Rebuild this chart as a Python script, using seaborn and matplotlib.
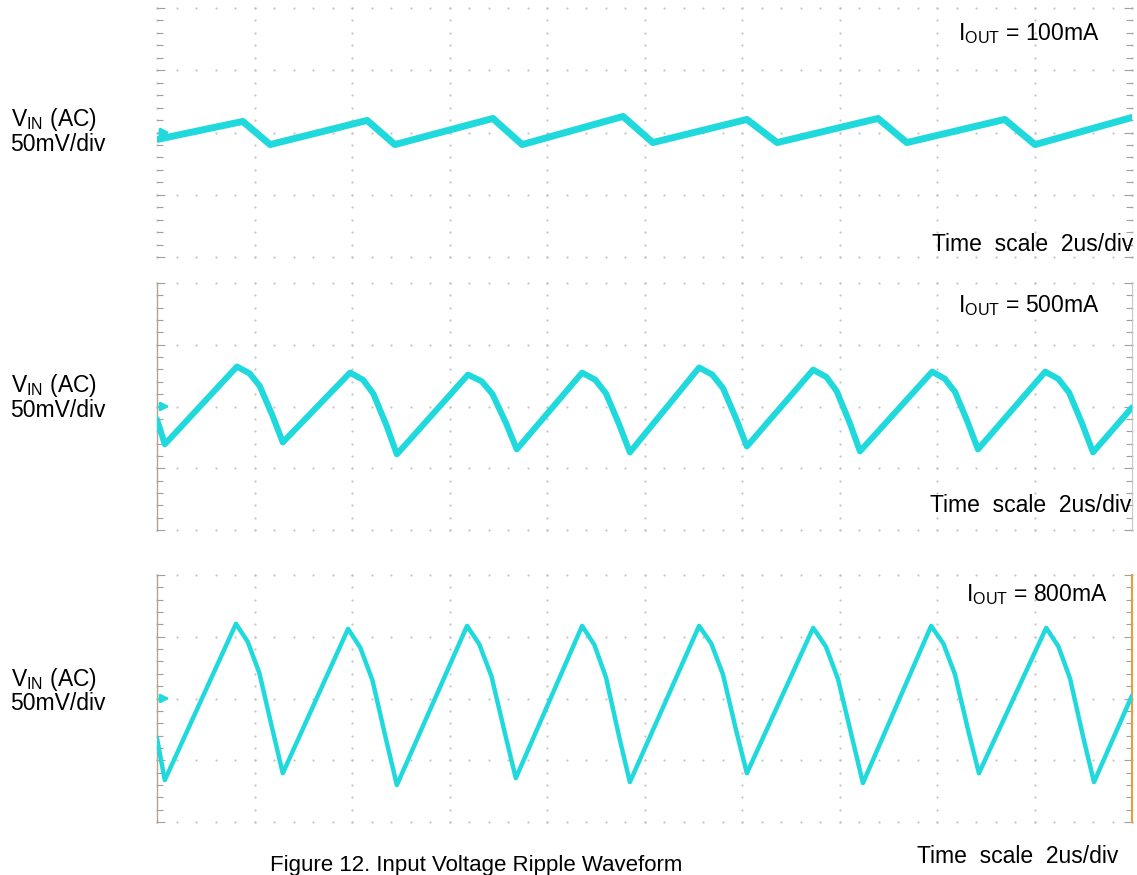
import numpy as np
import pandas as pd
import matplotlib.pyplot as plt
import seaborn as sns
from matplotlib.ticker import MultipleLocator

# Scope captures: time in us (2 us/div), AC ripple in mV (50 mV/div)
t_100 = [0.0, 1.76, 2.32, 4.31, 4.88, 6.89, 7.49, 9.56, 10.17, 12.10, 12.72,
         14.79, 15.38, 17.39, 18.01, 20.0]
v_100 = [-5.6, 8.9, -9.7, 9.7, -9.7, 11.3, -9.7, 12.9, -8.1, 10.5, -8.1,
         11.3, -8.1, 10.5, -9.7, 12.1]

t_500 = [0.0, 0.16, 1.64, 1.90, 2.11, 2.37, 2.58,
         3.96, 4.23, 4.44, 4.71, 4.92,
         6.38, 6.66, 6.88, 7.16, 7.38,
         8.72, 8.99, 9.21, 9.48, 9.70,
         11.12, 11.39, 11.61, 11.88, 12.10,
         13.46, 13.73, 13.94, 14.21, 14.42,
         15.90, 16.16, 16.37, 16.63, 16.84,
         18.22, 18.49, 18.71, 18.98, 19.20, 20.0]
v_500 = [-10.5, -30.6, 32.3, 26.8, 16.4, -7.5, -29.0,
         27.4, 21.5, 10.2, -15.6, -38.7,
         25.8, 20.4, 10.1, -13.5, -34.7,
         27.4, 21.6, 10.6, -14.5, -37.1,
         31.5, 25.8, 14.9, -10.0, -32.3,
         29.8, 23.9, 12.6, -13.2, -36.3,
         28.2, 22.5, 11.8, -12.7, -34.7,
         28.2, 22.3, 11.2, -14.2, -37.1, -0.8]

t_800 = [0.0, 0.16, 1.62, 1.86, 2.10, 2.37, 2.58,
         3.92, 4.17, 4.42, 4.70, 4.92,
         6.36, 6.61, 6.86, 7.14, 7.36,
         8.72, 8.97, 9.21, 9.48, 9.70,
         11.12, 11.37, 11.61, 11.88, 12.10,
         13.46, 13.72, 13.97, 14.26, 14.48,
         15.88, 16.13, 16.37, 16.64, 16.86,
         18.24, 18.49, 18.73, 19.00, 19.22, 20.0]
v_800 = [-32.3, -66.1, 60.5, 46.0, 20.6, -25.4, -60.5,
         56.4, 41.2, 14.7, -33.4, -70.1,
         58.8, 44.0, 18.1, -28.7, -64.5,
         58.8, 43.6, 17.1, -31.0, -67.7,
         58.8, 44.5, 19.4, -25.9, -60.5,
         57.2, 42.1, 15.7, -32.0, -68.5,
         58.8, 44.5, 19.4, -25.9, -60.5,
         57.2, 42.2, 16.0, -31.5, -67.7, 2.4]

loads = ['100mA', '500mA', '800mA']

TRACE = '#1fd9dc'
W, H = 1137, 875

sns.set_style('white')
plt.rcParams['font.family'] = ['Liberation Sans', 'DejaVu Sans']
plt.rcParams['mathtext.default'] = 'regular'
plt.rcParams['text.color'] = 'black'

fig = plt.figure(figsize=(W / 100, H / 100), dpi=100)


def px(x, y):
    return x / W, 1 - y / H


# axes boxes in pixels: (top, bottom)
boxes = [(8, 257), (283, 530), (575, 822)]
left, right = 157, 1132
traces = [(t_100, v_100, 5.0), (t_500, v_500, 4.4), (t_800, v_800, 3.2)]

axes = []
for (top, bot), (t, v, lw) in zip(boxes, traces):
    ax = fig.add_axes([left / W, 1 - bot / H, (right - left) / W, (bot - top) / H])
    # dotted scope graticule
    xs_major = np.arange(0, 20.01, 2)
    ys_major = np.arange(-100, 100.1, 50)
    xs_minor = np.arange(0, 20.01, 0.4)
    ys_minor = np.arange(-100, 100.1, 10)
    gx, gy = np.meshgrid(xs_major, ys_minor)
    hx, hy = np.meshgrid(xs_minor, ys_major)
    ax.scatter(np.r_[gx.ravel(), hx.ravel()], np.r_[gy.ravel(), hy.ravel()],
               s=2.5, color='#c4c4c4', lw=0, zorder=0, clip_on=False)

    df = pd.DataFrame({'t': t, 'v': v})
    sns.lineplot(data=df, x='t', y='v', ax=ax, color=TRACE, lw=lw,
                 estimator=None, sort=False, zorder=3,
                 solid_joinstyle='round', solid_capstyle='round')
    # ground marker
    ax.annotate('', xy=(0.32, 0), xytext=(0, 0),
                arrowprops=dict(arrowstyle='-|>', color=TRACE, lw=2,
                                mutation_scale=12), zorder=4)

    ax.set_xlim(0, 20)
    ax.set_ylim(-100, 100)
    ax.set_xlabel('')
    ax.set_ylabel('')
    ax.set_xticks([])
    ax.set_yticks(ys_major)
    ax.yaxis.set_minor_locator(MultipleLocator(10))
    ax.tick_params(axis='y', which='both', direction='in', left=True, right=True,
                   labelleft=False, color='#a0a0a0', width=0.8)
    ax.tick_params(axis='y', which='major', length=6)
    ax.tick_params(axis='y', which='minor', length=4)
    for s in ax.spines.values():
        s.set_visible(False)
    axes.append(ax)

for ax in axes[1:]:
    ax.spines['left'].set_visible(True)
    ax.spines['left'].set_color('#b5a58f')
    ax.spines['left'].set_linewidth(1.0)
axes[1].spines['right'].set_visible(True)
axes[1].spines['right'].set_color('#c8c8c8')
axes[2].spines['right'].set_visible(True)
axes[2].spines['right'].set_color('#e3a03c')
axes[2].spines['right'].set_linewidth(1.5)

fs = 16.5
# left channel labels (baselines in px)
for y1, y2 in [(126, 151), (392, 417), (686, 710)]:
    fig.text(*px(11, y1), 'V$_{IN}$ (AC)', fontsize=fs, ha='left', va='baseline')
    fig.text(*px(10, y2), '50mV/div', fontsize=fs, ha='left', va='baseline')

# load current labels
for load, (x, y) in zip(loads, [(1100, 40), (1100, 312), (1108, 601)]):
    fig.text(*px(x, y), 'I$_{OUT}$ = ' + load, fontsize=fs, ha='right', va='baseline')

# time base labels
for x, y in [(1133, 251), (1131, 512), (1118, 863)]:
    fig.text(*px(x, y), 'Time  scale  2us/div', fontsize=fs, ha='right', va='baseline')

fig.text(*px(270, 871), 'Figure 12. Input Voltage Ripple Waveform', fontsize=16,
         ha='left', va='baseline')

fig.savefig('out.png', dpi=100)
